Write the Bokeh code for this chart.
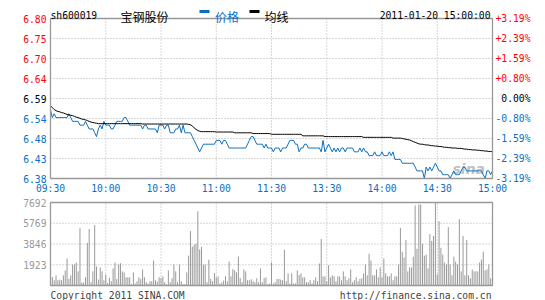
from bokeh.plotting import figure
from bokeh.models import Range1d
from bokeh.core.properties import value
from bokeh.embed import file_html
from bokeh.resources import INLINE

# ---------------- data ----------------
minutes = list(range(241))

price = [
    6.56, 6.54, 6.55, 6.54, 6.54, 6.54, 6.54, 6.54, 6.54, 6.54,
    6.55, 6.54, 6.53, 6.53, 6.53, 6.53, 6.52, 6.52, 6.52, 6.53,
    6.52, 6.51, 6.51, 6.51, 6.50, 6.49, 6.51, 6.52, 6.51, 6.53,
    6.52, 6.52, 6.52, 6.51, 6.51, 6.52, 6.53, 6.53, 6.53, 6.53,
    6.54, 6.54, 6.53, 6.52, 6.52, 6.52, 6.52, 6.52, 6.52, 6.52,
    6.51, 6.52, 6.52, 6.51, 6.51, 6.51, 6.51, 6.51, 6.50, 6.52,
    6.52, 6.52, 6.51, 6.52, 6.52, 6.50, 6.50, 6.50, 6.51, 6.51,
    6.52, 6.50, 6.52, 6.50, 6.50, 6.50, 6.50, 6.49, 6.48, 6.47,
    6.46, 6.45, 6.46, 6.47, 6.47, 6.47, 6.47, 6.47, 6.47, 6.47,
    6.48, 6.48, 6.48, 6.47, 6.48, 6.48, 6.47, 6.46, 6.46, 6.46,
    6.46, 6.46, 6.46, 6.46, 6.46, 6.46, 6.46, 6.47, 6.48, 6.49,
    6.49, 6.48, 6.47, 6.47, 6.47, 6.47, 6.46, 6.47, 6.46, 6.46,
    6.46,
    6.45, 6.46, 6.46, 6.46, 6.45, 6.46, 6.46, 6.46, 6.47, 6.48,
    6.48, 6.48, 6.47, 6.47, 6.45, 6.46, 6.46, 6.47, 6.47, 6.46,
    6.46, 6.46, 6.46, 6.46, 6.46, 6.46, 6.45, 6.48, 6.45, 6.46,
    6.47, 6.46, 6.45, 6.46, 6.45, 6.46, 6.45, 6.46, 6.46, 6.45,
    6.46, 6.46, 6.46, 6.46, 6.45, 6.45, 6.45, 6.46, 6.45, 6.46,
    6.45, 6.45, 6.44, 6.44, 6.44, 6.45, 6.44, 6.44, 6.44, 6.45,
    6.44, 6.44, 6.44, 6.45, 6.44, 6.45, 6.43, 6.43, 6.43, 6.43,
    6.42, 6.42, 6.42, 6.42, 6.42, 6.42, 6.42, 6.41, 6.40, 6.40,
    6.40, 6.40, 6.38, 6.41, 6.40, 6.41, 6.40, 6.41, 6.42, 6.41,
    6.40, 6.40, 6.39, 6.39, 6.39, 6.39, 6.38, 6.39, 6.40, 6.39,
    6.39, 6.39, 6.40, 6.41, 6.41, 6.40, 6.40, 6.40, 6.40, 6.40,
    6.40, 6.40, 6.40, 6.40, 6.39, 6.38, 6.40, 6.40, 6.39, 6.40,
]

avg = [
    6.571, 6.566, 6.561, 6.558, 6.556, 6.555, 6.553, 6.552, 6.550, 6.548,
    6.547, 6.546, 6.545, 6.543, 6.541, 6.540, 6.538, 6.536, 6.535, 6.534,
    6.532, 6.530, 6.528, 6.527, 6.526, 6.525, 6.524, 6.524, 6.524, 6.524,
    6.524, 6.524, 6.524, 6.524, 6.524, 6.524, 6.524, 6.524, 6.524, 6.524,
    6.524, 6.524, 6.524, 6.524, 6.524, 6.524, 6.524, 6.524, 6.524, 6.524,
    6.523, 6.523, 6.523, 6.523, 6.523, 6.523, 6.523, 6.523, 6.523, 6.523,
    6.523, 6.523, 6.523, 6.523, 6.523, 6.523, 6.523, 6.523, 6.523, 6.523,
    6.523, 6.523, 6.523, 6.523, 6.523, 6.522, 6.521, 6.518, 6.513, 6.509,
    6.506, 6.504, 6.503, 6.503, 6.503, 6.503, 6.503, 6.503, 6.503, 6.503,
    6.502, 6.502, 6.502, 6.502, 6.502, 6.502, 6.502, 6.502, 6.502, 6.502,
    6.500, 6.500, 6.500, 6.500, 6.500, 6.500, 6.500, 6.500, 6.500, 6.500,
    6.498, 6.498, 6.498, 6.498, 6.498, 6.498, 6.498, 6.498, 6.498, 6.498,
    6.496, 6.496, 6.496, 6.496, 6.496, 6.496, 6.496, 6.496, 6.496, 6.496,
    6.496, 6.496, 6.496, 6.496, 6.496, 6.496, 6.496,
    6.492, 6.492, 6.492, 6.492, 6.492, 6.492, 6.492, 6.492, 6.492, 6.492,
    6.492, 6.492,
    6.490, 6.490, 6.490, 6.490, 6.490, 6.490, 6.490, 6.490, 6.490, 6.490,
    6.490, 6.490, 6.490, 6.490, 6.490, 6.490, 6.490, 6.490, 6.490, 6.490,
    6.490,
    6.488, 6.488, 6.488, 6.488, 6.488, 6.488, 6.488, 6.488, 6.488, 6.488,
    6.488, 6.488, 6.488, 6.488, 6.488, 6.488,
    6.486, 6.486, 6.486, 6.486, 6.486,
    6.485, 6.484, 6.483, 6.482, 6.481, 6.479, 6.477, 6.475, 6.473, 6.471,
    6.470, 6.470, 6.469, 6.468, 6.468, 6.467, 6.466, 6.466, 6.465, 6.465,
    6.464, 6.464, 6.463, 6.462, 6.462, 6.461, 6.461, 6.460, 6.460, 6.460,
    6.459, 6.459, 6.459, 6.458, 6.457, 6.457, 6.456, 6.456, 6.455, 6.455,
    6.455, 6.454, 6.454, 6.453, 6.453, 6.452, 6.452, 6.451, 6.451, 6.450,
]

volume = [
    942, 790, 486, 942, 486, 547, 486, 942, 1398, 2493,
    608, 942, 1946, 1946, 2128, 1307, 5320, 274, 274, 760,
    3952, 5229, 304, 1307, 5594, 1763, 547, 1672, 1307, 486,
    1003, 243, 699, 395, 1581, 2128, 608, 1946, 2067, 1307,
    1216, 760, 760, 760, 122, 1216, 182, 395, 760, 608,
    1490, 760, 304, 182, 395, 395, 2310, 486, 365, 760,
    699, 851, 304, 122, 1398, 304, 669, 1946, 1307, 304,
    1946, 395, 122, 122, 1216, 2766, 5046, 3587, 3770, 3891,
    6870, 3344, 3587, 1946, 1946, 304, 2402, 608, 395, 1155,
    760, 851, 182, 274, 456, 851, 395, 2219, 851, 1520,
    1398, 1216, 2675, 699, 304, 1490, 1307, 486, 486, 578,
    395, 304, 669, 304, 1581, 304, 669, 760, 122, 182,
    2128, 182, 304, 608, 608, 547, 486, 3314, 395, 1125,
    182, 1125, 182, 182, 1398, 973, 1125, 760, 760, 304,
    304, 486, 182, 486, 760, 395, 2037, 4317, 851, 851,
    395, 1885, 760, 942, 851, 395, 851, 851, 486, 1307,
    851, 486, 669, 1490, 304, 486, 760, 395, 608, 669,
    1125, 1946, 942, 2949, 2310, 942, 942, 1490, 760, 1672,
    760, 2493, 1125, 851, 851, 1125, 486, 851, 851, 1946,
    5320, 3131, 2584, 4226, 1307, 1672, 1672, 2675, 7418, 3405,
    7509, 7509, 3861, 2766, 2858, 1581, 4773, 4134, 4590, 7692,
    1034, 5958, 3496, 2858, 2128, 1946, 5411, 1946, 942, 2675,
    2219, 1946, 6141, 1307, 4590, 942, 4226, 942, 669, 1490,
    1307, 1307, 1307, 2128, 2402, 3131, 1398, 1490, 1946, 669,
    942,
]

pre_close = 6.59
price_min, price_max = 6.38, 6.80
vol_max = 7692
price_ticks = [6.38, 6.4325, 6.485, 6.5375, 6.59, 6.6425, 6.695, 6.7475, 6.80]
price_labels = ["6.38", "6.43", "6.48", "6.54", "6.59", "6.64", "6.70", "6.75", "6.80"]
pct_labels = ["-3.19%", "-2.39%", "-1.59%", "-0.80%", "0.00%",
              "+0.80%", "+1.59%", "+2.39%", "+3.19%"]
time_ticks = [0, 30, 60, 90, 120, 150, 180, 210, 240]
time_labels = ["09:30", "10:00", "10:30", "11:00", "11:30",
               "13:30", "14:00", "14:30", "15:00"]
vol_ticks = [1923, 3846, 5769, 7692]
vol_labels = ["1923", "3846", "5769", "7692"]

stock_code = "sh600019"
stock_name = "宝钢股份"
legend_price = "价格"
legend_avg = "均线"
stamp = "2011-01-20 15:00:00"
copyright_text = "Copyright 2011 SINA.COM"
site_text = "http://finance.sina.com.cn"

# ---------------- style / layout ----------------
BLUE = "#0a6fc2"
RED = "#ff0000"
GRAYTXT = "#999999"
FRAME = "#999999"
GRID = "#b0b0b0"
BAR = "#999999"
MONO = "DejaVu Sans Mono"
CJK = "Noto Sans CJK SC"
FS = "9.7px"

W, H = 545, 300
L, R = 50, 492          # panel left / right (px)
PT, PB = 18, 178        # price panel top / bottom (px)
VT, VB = 202, 285       # volume panel top / bottom (px)

n_min = time_ticks[-1]
mpp = n_min / (R - L)                       # minutes per pixel
ppu = (price_max - price_min) / (PB - PT)   # price per pixel
vpu = vol_max / (VB - VT)                   # volume per pixel


def py(px):   # canvas pixel row -> price coordinate
    return price_max - (px - PT) * ppu


def vy(px):   # canvas pixel row -> volume coordinate
    return (VB - px) * vpu


p = figure(width=W, height=H,
           x_range=Range1d(-L * mpp, n_min + (W - R) * mpp),
           y_range=Range1d(py(H), py(0)),
           output_backend="svg", toolbar_location=None,
           x_axis_location=None, y_axis_location=None, min_border=0)
p.extra_y_ranges = {"vol": Range1d(vy(H), vy(0))}
p.grid.visible = False
p.outline_line_color = None
p.background_fill_color = "white"
p.border_fill_color = "white"

# grids
inner_t = time_ticks[1:-1]
p.segment(x0=inner_t, y0=price_min, x1=inner_t, y1=price_max,
          line_color=GRID, line_dash="1 2", line_width=1)
p.segment(x0=0, y0=price_ticks[1:-1], x1=n_min, y1=price_ticks[1:-1],
          line_color=GRID, line_dash="1 2", line_width=1)
p.segment(x0=inner_t, y0=0, x1=inner_t, y1=vol_max, y_range_name="vol",
          line_color=GRID, line_dash="1 2", line_width=1)
p.segment(x0=0, y0=vol_ticks[:-1], x1=n_min, y1=vol_ticks[:-1], y_range_name="vol",
          line_color=GRID, line_dash="1 2", line_width=1)

# volume bars
p.segment(x0=minutes, y0=0, x1=minutes, y1=volume, y_range_name="vol",
          line_color=BAR, line_width=1)

# watermark (behind the lines)
p.text(x=(452 - L) * mpp, y=py(168), text=["sina"], text_color="#b9b9b9",
       text_alpha=0.9, text_align="left", text_baseline="alphabetic",
       text_font=value("DejaVu Sans"), text_font_style="bold italic",
       text_font_size=value("14px"))

# price & average lines
p.line(minutes, price, line_color=BLUE, line_width=1)
p.line(minutes, avg, line_color="black", line_width=1)

# panel frames
p.quad(left=0, right=n_min, bottom=price_min, top=price_max,
       fill_color=None, line_color=FRAME, line_width=1.3)
p.quad(left=0, right=n_min, bottom=0, top=vol_max, y_range_name="vol",
       fill_color=None, line_color=FRAME, line_width=1.3)

# price axis labels
cols = [RED if t > pre_close + 1e-9 else (BLUE if t < pre_close - 1e-9 else "black")
        for t in price_ticks]
p.text(x=0, y=price_ticks, text=price_labels, text_color=cols, x_offset=-4,
       text_align="right", text_baseline="middle",
       text_font=value(MONO), text_font_size=value(FS))
p.text(x=n_min, y=price_ticks, text=pct_labels, text_color=cols, x_offset=38,
       text_align="right", text_baseline="middle",
       text_font=value(MONO), text_font_size=value(FS))

# time labels
p.text(x=time_ticks, y=py(188), text=time_labels, text_color=BLUE,
       text_align="center", text_baseline="middle",
       text_font=value(MONO), text_font_size=value(FS))

# volume labels
p.text(x=0, y=vol_ticks, text=vol_labels, text_color=GRAYTXT, x_offset=-4,
       y_range_name="vol", text_align="right", text_baseline="middle",
       text_font=value(MONO), text_font_size=value(FS))

# header
def txt(x, xo, ypx, s, color, font, size, align="left"):
    p.text(x=x, y=py(ypx), text=[s], x_offset=xo, text_color=color,
           text_align=align, text_baseline="alphabetic",
           text_font=value(font), text_font_size=value(size))

txt(0, 0, 15, stock_code, "black", MONO, FS)
txt(0, 70, 16, stock_name, "black", CJK, "12px")
txt(0, 164.5, 16, legend_price, BLUE, CJK, "12px")
txt(0, 214, 16, legend_avg, "black", CJK, "12px")
txt(n_min, -2, 15, stamp, "black", MONO, FS, align="right")

# legend keys
p.segment(x0=[(199 - L) * mpp], y0=py(11), x1=[(209 - L) * mpp], y1=py(11),
          line_color=BLUE, line_width=3)
p.segment(x0=[(249 - L) * mpp], y0=py(11), x1=[(259 - L) * mpp], y1=py(11),
          line_color="black", line_width=3)

# footer
p.text(x=0, y=vy(295), text=[copyright_text], y_range_name="vol", text_color="#444444",
       text_align="left", text_baseline="alphabetic",
       text_font=value(MONO), text_font_size=value(FS))
p.text(x=n_min, y=vy(295), text=[site_text], y_range_name="vol", x_offset=-1,
       text_color="#444444", text_align="right", text_baseline="alphabetic",
       text_font=value(MONO), text_font_size=value(FS))

open("out.html", "w").write(file_html(p, INLINE))
